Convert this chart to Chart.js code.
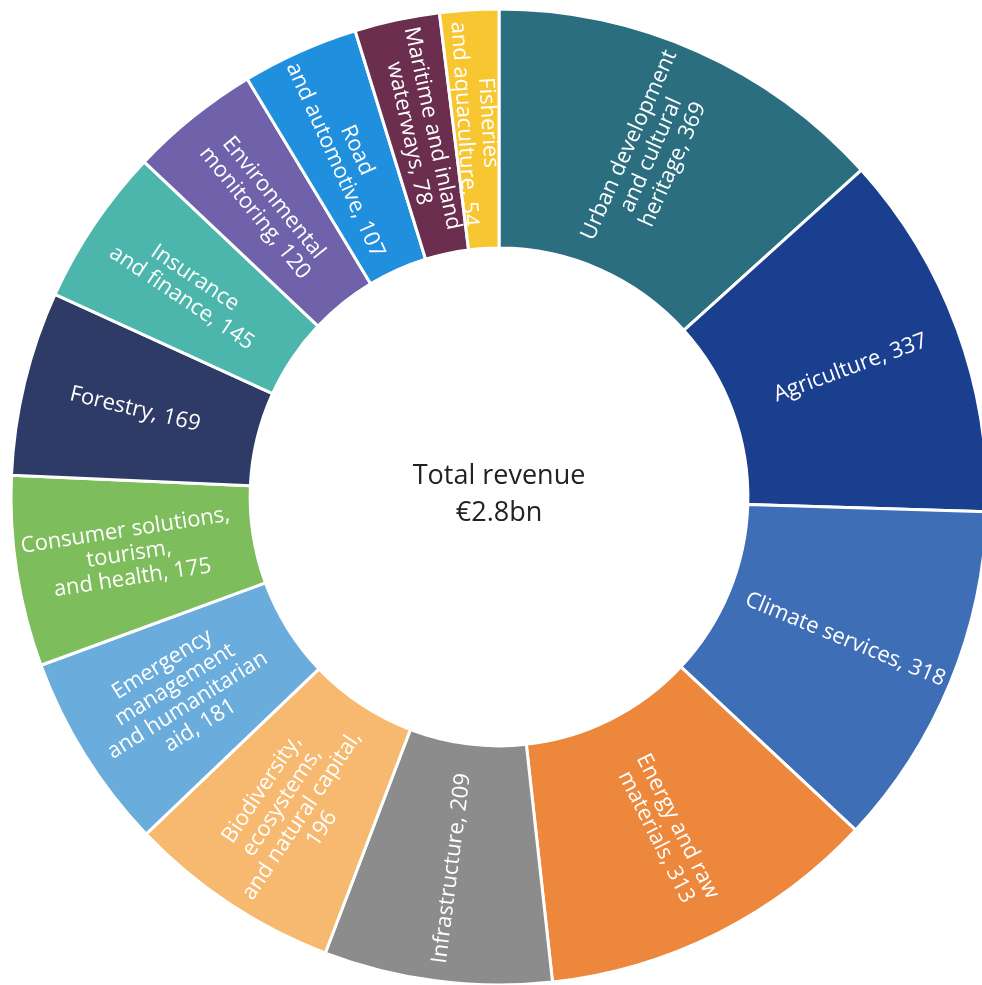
<!DOCTYPE html>
<html>
<head>
<meta charset="utf-8">
<title>Revenue by sector</title>
<script src="https://cdn.jsdelivr.net/npm/chart.js@4.4.1/dist/chart.umd.min.js"></script>
<style>
  html, body { margin: 0; padding: 0; background: #fff; overflow: hidden; }
  #wrap { position: absolute; left: 0; top: 0; width: 1000px; height: 1000px; }
</style>
</head>
<body>
<div id="wrap"><canvas id="donut"></canvas></div>
<script>
// values (€m), clockwise from 12 o'clock
const sectors = [
  'Urban development and cultural heritage', 'Agriculture', 'Climate services',
  'Energy and raw materials', 'Infrastructure', 'Biodiversity, ecosystems, and natural capital',
  'Emergency management and humanitarian aid', 'Consumer solutions, tourism, and health',
  'Forestry', 'Insurance and finance', 'Environmental monitoring', 'Road and automotive',
  'Maritime and inland waterways', 'Fisheries and aquaculture'
];
const revenue = [369, 337, 318, 313, 209, 196, 181, 175, 169, 145, 120, 107, 78, 54];

// how each slice label is broken into lines ({v} = value)
const labelLines = [
  ['Urban development', 'and cultural', 'heritage, {v}'],
  ['Agriculture, {v}'],
  ['Climate services, {v}'],
  ['Energy and raw', 'materials, {v}'],
  ['Infrastructure, {v}'],
  ['Biodiversity,', 'ecosystems,', 'and natural capital,', '{v}'],
  ['Emergency', 'management', 'and humanitarian', 'aid, {v}'],
  ['Consumer solutions,', 'tourism,', 'and health, {v}'],
  ['Forestry, {v}'],
  ['Insurance', 'and finance, {v}'],
  ['Environmental', 'monitoring, {v}'],
  ['Road', 'and automotive, {v}'],
  ['Maritime and inland', 'waterways, {v}'],
  ['Fisheries', 'and aquaculture, {v}']
];
const centreLines = ['Total revenue', '€2.8bn'];

const sliceLabels = {
  id: 'sliceLabels',
  afterDatasetsDraw(chart) {
    const ctx = chart.ctx;
    const meta = chart.getDatasetMeta(0);
    ctx.save();
    ctx.fillStyle = '#ffffff';
    ctx.font = '22px "Open Sans"';
    ctx.textAlign = 'center';
    ctx.textBaseline = 'middle';
    meta.data.forEach((arc, i) => {
      const p = arc.getProps(['x', 'y', 'startAngle', 'endAngle', 'innerRadius', 'outerRadius'], true);
      const mid = (p.startAngle + p.endAngle) / 2;
      const r = (p.innerRadius + p.outerRadius) / 2 + 6;
      const rot = Math.cos(mid) >= 0 ? mid : mid - Math.PI; // keep text upright-ish
      const lines = labelLines[i].map(s => s.replace('{v}', revenue[i]));
      ctx.save();
      ctx.translate(p.x + Math.cos(mid) * r, p.y + Math.sin(mid) * r);
      ctx.rotate(rot);
      lines.forEach((line, k) => {
        ctx.fillText(line, 0, (k - (lines.length - 1) / 2) * 24);
      });
      ctx.restore();
    });

    // text in the hole
    const c = meta.data[0];
    ctx.fillStyle = '#222222';
    ctx.font = '27px "Open Sans"';
    ctx.fillText(centreLines[0], c.x, c.y - 21);
    ctx.fillText(centreLines[1], c.x, c.y + 16);
    ctx.restore();
  }
};

new Chart(document.getElementById('donut'), {
  type: 'doughnut',
  data: {
    labels: sectors,
    datasets: [{
      data: revenue,
      backgroundColor: [
        '#2b6e80', '#1b3f8f', '#3e6eb6', '#ec873c', '#8c8c8c', '#f6b96f', '#6aaddc',
        '#7dbd5b', '#2e3b66', '#4cb6ad', '#6f62aa', '#1f8fde', '#6c2e4e', '#f7c630'
      ],
      borderColor: '#ffffff',
      borderWidth: 3
    }]
  },
  options: {
    responsive: true,
    maintainAspectRatio: false,
    animation: false,
    cutout: '51%',
    layout: { padding: { left: 9.5, top: 7.5, right: 11.5, bottom: 13.5 } },
    plugins: {
      legend: { display: false },
      tooltip: { enabled: false }
    }
  },
  plugins: [sliceLabels]
});
</script>
</body>
</html>
